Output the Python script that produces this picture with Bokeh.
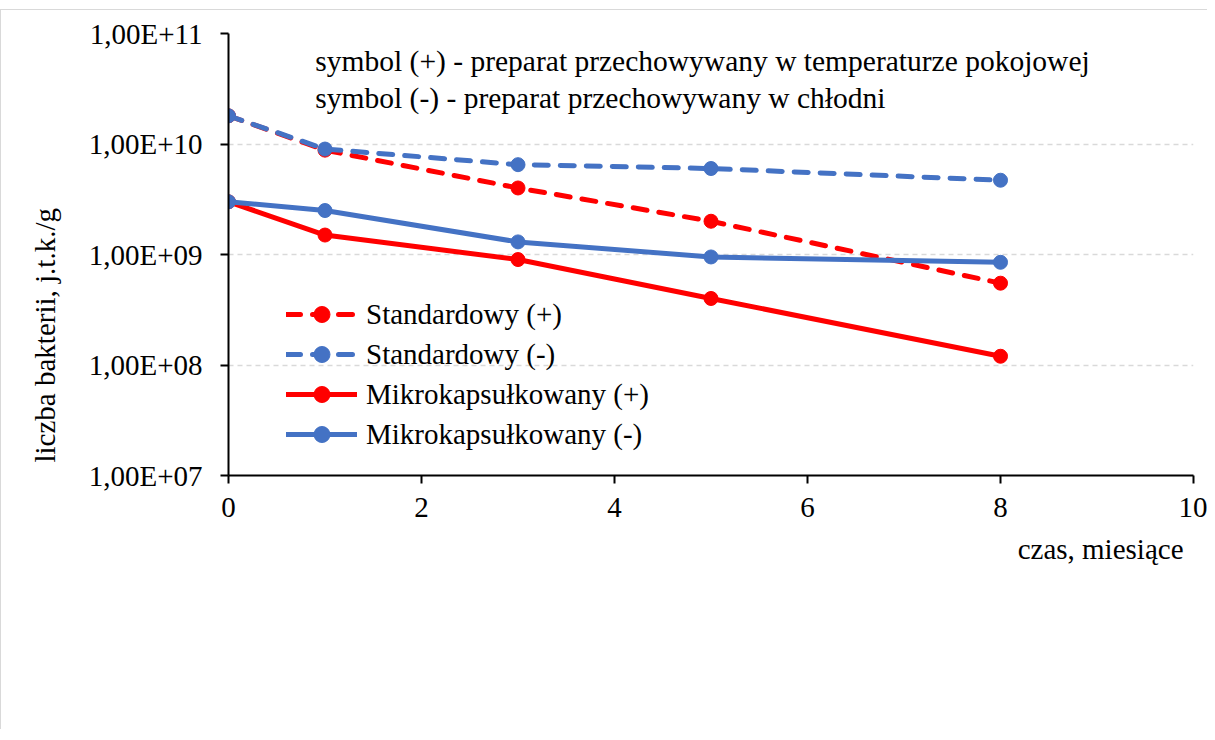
from bokeh.plotting import figure
from bokeh.models import Range1d, FixedTicker, Label, Legend, LegendItem, Title
from bokeh.embed import file_html
from bokeh.resources import INLINE

# ---- data ----
months = [0, 1, 3, 5, 8]
std_plus = [1.8e10, 8.8e9, 4.0e9, 2.0e9, 5.5e8]
std_minus = [1.8e10, 9.0e9, 6.5e9, 6.0e9, 4.7e9]
mik_plus = [3.0e9, 1.5e9, 9.0e8, 4.0e8, 1.2e8]
mik_minus = [3.0e9, 2.5e9, 1.3e9, 9.5e8, 8.5e8]
series_names = ["Standardowy (+)", "Standardowy (-)", "Mikrokapsułkowany (+)", "Mikrokapsułkowany (-)"]
y_ticks = [1e7, 1e8, 1e9, 1e10, 1e11]
y_tick_labels = ["1,00E+07", "1,00E+08", "1,00E+09", "1,00E+10", "1,00E+11"]
x_ticks = [0, 2, 4, 6, 8, 10]
note_lines = ["symbol (+) - preparat przechowywany w temperaturze pokojowej",
              "symbol (-) - preparat przechowywany w chłodni"]
x_title = "czas, miesiące"
y_title = "liczba bakterii, j.t.k./g"

FONT = "Liberation Serif"
FS = "29px"
RED = "#FF0000"
BLUE = "#4472C4"

p = figure(width=1207, height=720, y_axis_type="log",
           x_range=Range1d(0, 10), y_range=Range1d(1e7, 1e11),
           output_backend="svg", toolbar_location=None,
           min_border_left=226, min_border_right=15,
           min_border_top=23, min_border_bottom=255)
p.margin = (9, 0, 0, 0)
p.styles = {"border-left": "1px solid #d9d9d9", "border-top": "1px solid #d9d9d9"}
p.outline_line_color = None
p.background_fill_color = "white"
p.border_fill_color = "white"

p.xgrid.grid_line_color = None
p.ygrid.grid_line_color = "#D9D9D9"
p.ygrid.grid_line_dash = "5 4"
p.ygrid.grid_line_width = 1.5

p.yaxis.ticker = FixedTicker(ticks=y_ticks, minor_ticks=[])
p.yaxis.major_label_overrides = {t: l for t, l in zip(y_ticks, y_tick_labels)}
p.xaxis.ticker = FixedTicker(ticks=x_ticks, minor_ticks=[])

for ax in (p.xaxis, p.yaxis):
    ax.axis_line_color = "black"
    ax.axis_line_width = 2
    ax.major_tick_line_color = "black"
    ax.major_tick_line_width = 2
    ax.major_tick_out = 8
    ax.major_tick_in = 0
    ax.minor_tick_line_color = None
    ax.major_label_text_font = FONT
    ax.major_label_text_font_size = FS
    ax.major_label_text_color = "black"
p.yaxis.major_label_standoff = 18
p.xaxis.major_label_standoff = 14

styles = [(std_plus, RED, "14 12"), (std_minus, BLUE, "14 12"),
          (mik_plus, RED, "solid"), (mik_minus, BLUE, "solid")]
items = []
for (vals, col, dash), name in zip(styles, series_names):
    l = p.line(months, vals, line_color=col, line_width=5, line_dash=dash, line_cap="round",
               line_join="round")
    c = p.scatter(months, vals, marker="circle", size=14, fill_color=col, line_color=col)
    items.append(LegendItem(label=name, renderers=[l, c]))

legend = Legend(items=items, location=(58, 21))
legend.label_text_font = FONT
legend.label_text_font_size = FS
legend.label_text_color = "black"
legend.glyph_width = 71
legend.glyph_height = 40
legend.label_height = 40
legend.spacing = 0
legend.padding = 0
legend.margin = 0
legend.label_standoff = 9
legend.border_line_alpha = 0
legend.background_fill_alpha = 0
p.add_layout(legend)

# note text (top)
for txt, yv in zip(note_lines, [5.66e10, 2.6e10]):
    p.add_layout(Label(x=0.90, y=yv, text=txt, text_font=FONT, text_font_size="29.5px",
                       text_baseline="middle", text_align="left", text_color="black"))

# axis titles
xt = Title(text=x_title, align="right", offset=10, standoff=22,
           text_font=FONT, text_font_size=FS, text_font_style="normal", text_color="black")
p.add_layout(xt, "below")
yt = Title(text=y_title, align="left", offset=13, standoff=50,
           text_font=FONT, text_font_size=FS, text_font_style="normal", text_color="black")
p.add_layout(yt, "left")

open("out.html", "w").write(file_html(p, INLINE))
